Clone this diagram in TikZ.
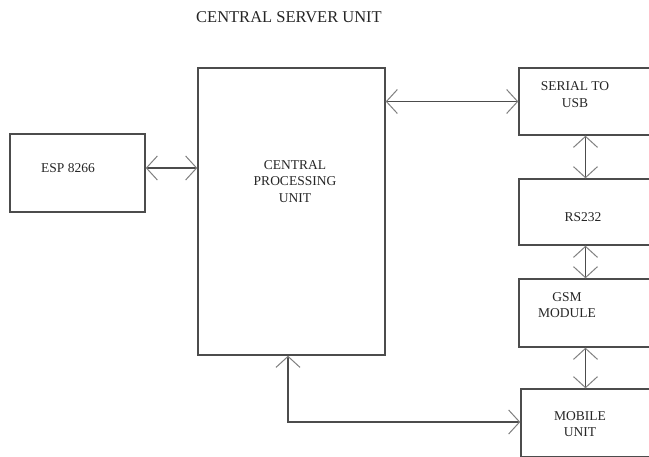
\documentclass[tikz,border=0pt]{standalone}
\usepackage{fontspec}
\setmainfont{Liberation Serif}
\usetikzlibrary{arrows.meta}
\tikzset{
  blk/.style={draw=black!70, line width=1.4pt, minimum width=#1, inner sep=0pt},
  lbl/.style={font=\fontsize{13.5}{16.5}\selectfont, text=black!85, align=center, inner sep=0pt},
  dbl/.style={draw=black!70, line width=1.3pt,
    {Straight Barb[length=11pt,width=24pt,line width=1pt,color=black!50]}-{Straight Barb[length=11pt,width=24pt,line width=1pt,color=black!50]}}
}
\begin{document}
\begin{tikzpicture}[x=1pt,y=-1pt]
\useasboundingbox[fill=white] (0,0) rectangle (649,456);
% title
\node[font=\fontsize{16.5}{19}\selectfont, text=black!85, inner sep=0pt] (title) at (289,17) {CENTRAL SERVER UNIT};
% boxes
\node[blk=135pt, minimum height=78pt] (esp) at (77.5,173) {};
\node[blk=187pt, minimum height=287pt] (cpu) at (291.5,211.5) {};
\node[blk=150pt, minimum height=67pt] (ser) at (594,101.5) {};
\node[blk=150pt, minimum height=66pt] (rs) at (594,212) {};
\node[blk=150pt, minimum height=68pt] (gsm) at (594,313) {};
\node[blk=148pt, minimum height=68pt] (mob) at (595,423) {};
\coordinate (vx) at (585.5,0);
% labels
\node[lbl] (espt) at (68,168) {ESP 8266};
\node[lbl] (cput) at (295,181.5) {CENTRAL\\PROCESSING\\UNIT};
\node[lbl] (sert) at (575,94.5) {SERIAL TO\\USB};
\node[lbl] (rst) at (583,217) {RS232};
\node[lbl] (gsmt) at (567,305) {GSM\\MODULE};
\node[lbl] (mobt) at (580,424) {MOBILE\\UNIT};
% connectors
\draw[dbl] ([yshift=5pt]esp.east) -- ([yshift=5pt]esp.east -| cpu.west);
\draw[dbl] (ser.west -| cpu.east) -- (ser.west);
\draw[dbl] (vx |- ser.south) -- (vx |- rs.north);
\draw[dbl] (vx |- rs.south) -- (vx |- gsm.north);
\draw[dbl] (vx |- gsm.south) -- (vx |- mob.north);
\draw[dbl] ([xshift=-3.5pt]cpu.south) |- ([yshift=1pt]mob.west);
\end{tikzpicture}
\end{document}
